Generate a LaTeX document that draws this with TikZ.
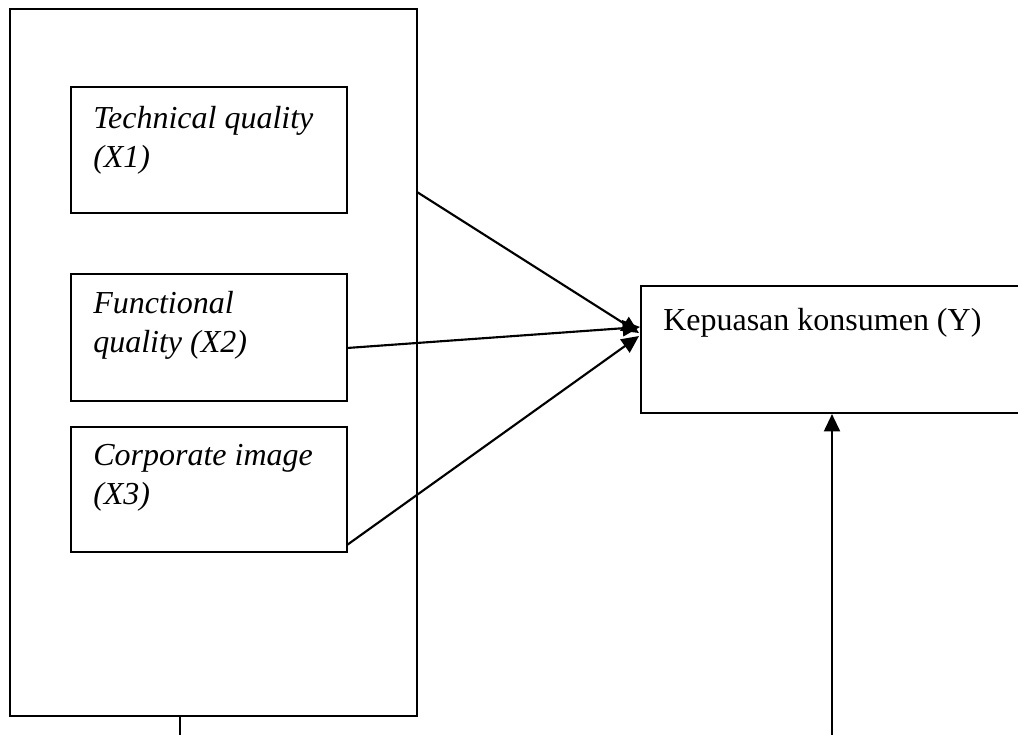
\documentclass[tikz,border=0pt]{standalone}
\usepackage{fontspec}
\setmainfont{Liberation Serif}
\usetikzlibrary{arrows.meta}
\begin{document}
\begin{tikzpicture}[x=0.75pt, y=-0.75pt,
		box/.style={draw, line width=1.6pt, inner sep=0, rectangle},
		txt/.style={anchor=base west, inner sep=0, align=left, font=\fontsize{24}{29}\selectfont\itshape},
		arr/.style={line width=1.6pt, -{Triangle[length=13pt, width=12pt]}}]
		\useasboundingbox (0,0) rectangle (1018,735);
		\clip (0,0) rectangle (1018,735);
		% left block
		\node[box, minimum width=305.25pt, minimum height=530.25pt] at (213.5,362.5) (outer) {};
		\node[box, minimum width=207pt, minimum height=94.5pt] at (209,150) (b1) {};
		\node[box, minimum width=207pt, minimum height=95.25pt] at (209,337.5) (b2) {};
		\node[box, minimum width=207pt, minimum height=93.75pt] at (209,489.5) (b3) {};
		\node[txt] at (93,167) (t1) {Technical quality\\(X1)};
		\node[txt] at (93,352) (t2) {Functional\\quality (X2)};
		\node[txt] at (93,504) (t3) {Corporate image\\(X3)};
		% right block
		\node[box, minimum width=291.75pt, minimum height=95.25pt] at (835.5,349.5) (kep) {};
		\node[txt, font=\fontsize{24}{29}\selectfont] at (663,330) (ty) {Kepuasan konsumen (Y)};
		% arrows
		\coordinate (s1) at (417,192);
		\coordinate (s2) at (347,348);
		\coordinate (s3) at (347,545);
		\coordinate (e1) at (639,333);
		\coordinate (e2) at (640,327);
		\coordinate (e3) at (639,336);
		\draw[arr] (s1) -- (e1);
		\draw[arr] (s2) -- (e2);
		\draw[arr] (s3) -- (e3);
		\coordinate (d1) at (180,745);
		\coordinate (u1) at (832,745);
		\draw[line width=1.6pt] (outer.south -| d1) -- (d1);
		\draw[arr] (u1) -- (u1 |- kep.south);
	\end{tikzpicture}
\end{document}
